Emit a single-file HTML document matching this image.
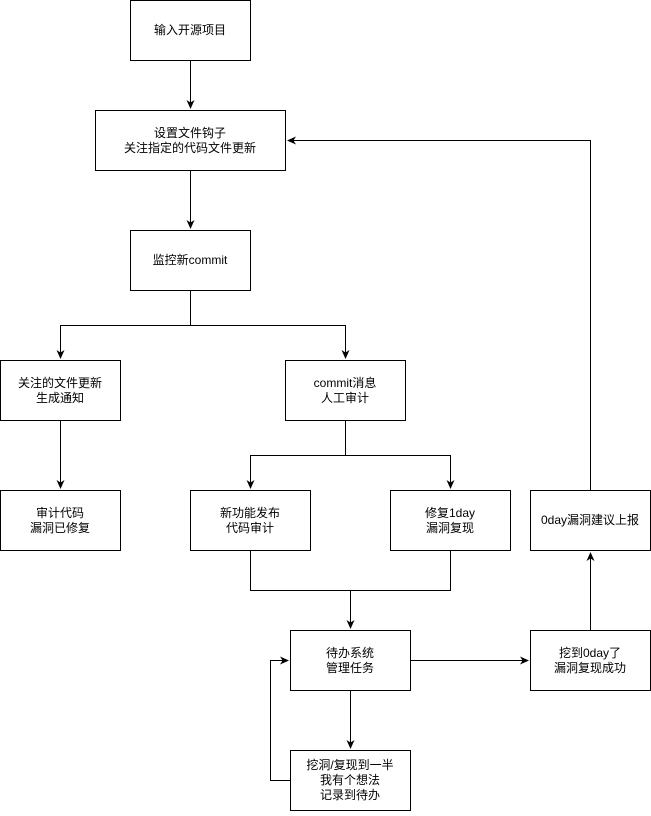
<!DOCTYPE html>
<html><head><meta charset="utf-8"><style>
html,body{margin:0;padding:0;background:#fff;}
svg text{font-family:"Liberation Sans","Noto Sans CJK SC",sans-serif;font-size:12px;fill:#000;text-anchor:middle;}
</style></head><body>
<svg width="651" height="811" viewBox="0 0 651 811" xmlns="http://www.w3.org/2000/svg">
<defs><marker id="a" markerWidth="10" markerHeight="10" refX="8" refY="5" orient="auto" markerUnits="userSpaceOnUse"><path d="M0,1 L9,5 L0,9 L2.5,5 Z" fill="#000"/></marker></defs>
<g fill="#fff" stroke="#000" stroke-width="1">
<rect x="130.5" y="0.5" width="120" height="60"/>
<rect x="95.5" y="110.5" width="190" height="60"/>
<rect x="130.5" y="230.5" width="120" height="60"/>
<rect x="0.5" y="360.5" width="120" height="60"/>
<rect x="285.5" y="360.5" width="120" height="60"/>
<rect x="0.5" y="490.5" width="120" height="60"/>
<rect x="190.5" y="490.5" width="120" height="60"/>
<rect x="390.5" y="490.5" width="120" height="60"/>
<rect x="530.5" y="490.5" width="120" height="60"/>
<rect x="290.5" y="630.5" width="120" height="60"/>
<rect x="530.5" y="630.5" width="120" height="60"/>
<rect x="290.5" y="750.5" width="120" height="60"/>
</g>
<g fill="none" stroke="#000" stroke-width="1">
<path d="M190.5,60.5 V108" marker-end="url(#a)"/>
<path d="M190.5,170.5 V228" marker-end="url(#a)"/>
<path d="M190.5,290.5 V325.5 H60.5 V358" marker-end="url(#a)"/>
<path d="M190.5,325.5 H345.5 V358" marker-end="url(#a)"/>
<path d="M345.5,420.5 V455.5 H250.5 V488" marker-end="url(#a)"/>
<path d="M345.5,455.5 H450.5 V488" marker-end="url(#a)"/>
<path d="M60.5,420.5 V488" marker-end="url(#a)"/>
<path d="M250.5,550.5 V590.5 H450.5 V550.5"/>
<path d="M350.5,590.5 V628" marker-end="url(#a)"/>
<path d="M410.5,660.5 H528" marker-end="url(#a)"/>
<path d="M590.5,630.5 V553" marker-end="url(#a)"/>
<path d="M590.5,490.5 V140.5 H288" marker-end="url(#a)"/>
<path d="M350.5,690.5 V748" marker-end="url(#a)"/>
<path d="M290.5,780.5 H270.5 V660.5 H288" marker-end="url(#a)"/>
</g>
<text x="190" y="34">输入开源项目</text>
<text x="190" y="137">设置文件钩子</text>
<text x="190" y="152">关注指定的代码文件更新</text>
<text x="190" y="264">监控新commit</text>
<text x="60" y="387">关注的文件更新</text>
<text x="60" y="402">生成通知</text>
<text x="345" y="387">commit消息</text>
<text x="345" y="402">人工审计</text>
<text x="60" y="517">审计代码</text>
<text x="60" y="532">漏洞已修复</text>
<text x="250" y="517">新功能发布</text>
<text x="250" y="532">代码审计</text>
<text x="450" y="517">修复1day</text>
<text x="450" y="532">漏洞复现</text>
<text x="590" y="524">0day漏洞建议上报</text>
<text x="350" y="657">待办系统</text>
<text x="350" y="672">管理任务</text>
<text x="590" y="657">挖到0day了</text>
<text x="590" y="672">漏洞复现成功</text>
<text x="350" y="769">挖洞/复现到一半</text>
<text x="350" y="784">我有个想法</text>
<text x="350" y="799">记录到待办</text>
</svg>
</body></html>
